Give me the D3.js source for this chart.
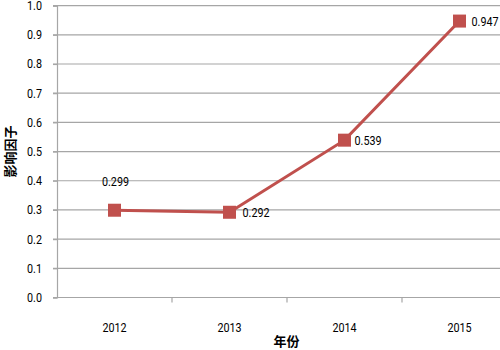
<!DOCTYPE html>
<html>
<head>
<meta charset="utf-8">
<script src="https://cdn.jsdelivr.net/npm/d3@7"></script>
<style>
  html, body { margin: 0; padding: 0; background: #fff; }
  svg { display: block; }
  text { font-family: Roboto, "Liberation Sans", sans-serif; fill: #000; }
  .cjk { font-family: "Noto Sans CJK SC", sans-serif; font-weight: bold; }
</style>
</head>
<body>
<svg id="chart" width="500" height="350"></svg>
<script>
// Impact factor by year
const years = ["2012", "2013", "2014", "2015"];
const impact = [0.299, 0.292, 0.539, 0.947];
const yTicks = [0, 0.1, 0.2, 0.3, 0.4, 0.5, 0.6, 0.7, 0.8, 0.9, 1.0];
const xTitle = "年份";
const yTitle = "影响因子";

const svg = d3.select("#chart");
const plotLeft = 57, plotTop = 5.6, plotBottom = 297.5, band = 115;
const plotRight = plotLeft + band * years.length;
const fontSize = 12.5;
const squeeze = 0.86; // narrow lettering for numbers

const x = d3.scaleBand().domain(years).range([plotLeft, plotRight]).padding(0);
const y = d3.scaleLinear().domain([0, 1]).range([plotBottom, plotTop]);

// horizontal gridlines
svg.append("g").selectAll("line").data(yTicks.filter(d => d > 0)).join("line")
  .attr("x1", plotLeft - 4).attr("x2", 500)
  .attr("y1", d => y(d)).attr("y2", d => y(d))
  .attr("stroke", "#a6a6a6").attr("stroke-width", 1.2);

// y axis
const yAxis = svg.append("g").attr("transform", `translate(${plotLeft},0)`)
  .call(d3.axisLeft(y).tickValues(yTicks).tickFormat(d3.format(".1f")).tickSize(4).tickPadding(11));
yAxis.select(".domain").attr("stroke", "#a6a6a6").attr("stroke-width", 1.2);
yAxis.selectAll(".tick line").attr("stroke", "#a6a6a6").attr("stroke-width", 1.2);
yAxis.selectAll("text").attr("class", "num").attr("font-size", fontSize).attr("fill", "#000")
  .style("font-family", "Roboto, 'Liberation Sans', sans-serif");

// x axis with ticks at band boundaries
const xg = svg.append("g").attr("transform", `translate(0,${plotBottom})`);
xg.append("line").attr("x1", plotLeft - 4).attr("x2", 500)
  .attr("stroke", "#a6a6a6").attr("stroke-width", 1.2);
xg.selectAll("line.tk").data(years).join("line").attr("class", "tk")
  .attr("x1", d => x(d) + band).attr("x2", d => x(d) + band)
  .attr("y1", 0).attr("y2", 5)
  .attr("stroke", "#a6a6a6").attr("stroke-width", 1.2);
xg.selectAll("text").data(years).join("text").attr("class", "num")
  .attr("x", d => x(d) + x.bandwidth() / 2).attr("y", 34)
  .attr("text-anchor", "middle").attr("font-size", fontSize)
  .text(d => d);

// series line
const cx = d => x(d) + x.bandwidth() / 2;
svg.append("path")
  .datum(years.map((d, i) => [cx(d), y(impact[i])]))
  .attr("d", d3.line())
  .attr("fill", "none").attr("stroke", "#c0504d").attr("stroke-width", 3);

// square markers
const m = 13;
svg.selectAll("rect.mk").data(years).join("rect").attr("class", "mk")
  .attr("x", d => cx(d) - m / 2)
  .attr("y", (d, i) => y(impact[i]) - m / 2)
  .attr("width", m).attr("height", m)
  .attr("fill", "#c0504d");

// value labels
const lblOffset = [[1, -24, "middle"], [13, 5, "start"], [10, 5, "start"], [12, 5, "start"]];
svg.selectAll("text.val").data(years).join("text").attr("class", "val num")
  .attr("x", (d, i) => cx(d) + lblOffset[i][0])
  .attr("y", (d, i) => y(impact[i]) + lblOffset[i][1])
  .attr("text-anchor", (d, i) => lblOffset[i][2])
  .attr("font-size", fontSize)
  .text((d, i) => d3.format(".3f")(impact[i]));

// condense numeric text horizontally
svg.selectAll("text.num").each(function () {
  const w = this.getComputedTextLength();
  d3.select(this).attr("textLength", w * squeeze).attr("lengthAdjust", "spacingAndGlyphs");
});

// axis titles
svg.append("text").attr("class", "cjk")
  .attr("x", (plotLeft + 500) / 2 + 8).attr("y", 346)
  .attr("text-anchor", "middle").attr("font-size", 13)
  .text(xTitle);
svg.append("text").attr("class", "cjk")
  .attr("transform", `translate(15,${(plotTop + plotBottom) / 2}) rotate(-90)`)
  .attr("text-anchor", "middle").attr("font-size", 13)
  .text(yTitle);
</script>
</body>
</html>
